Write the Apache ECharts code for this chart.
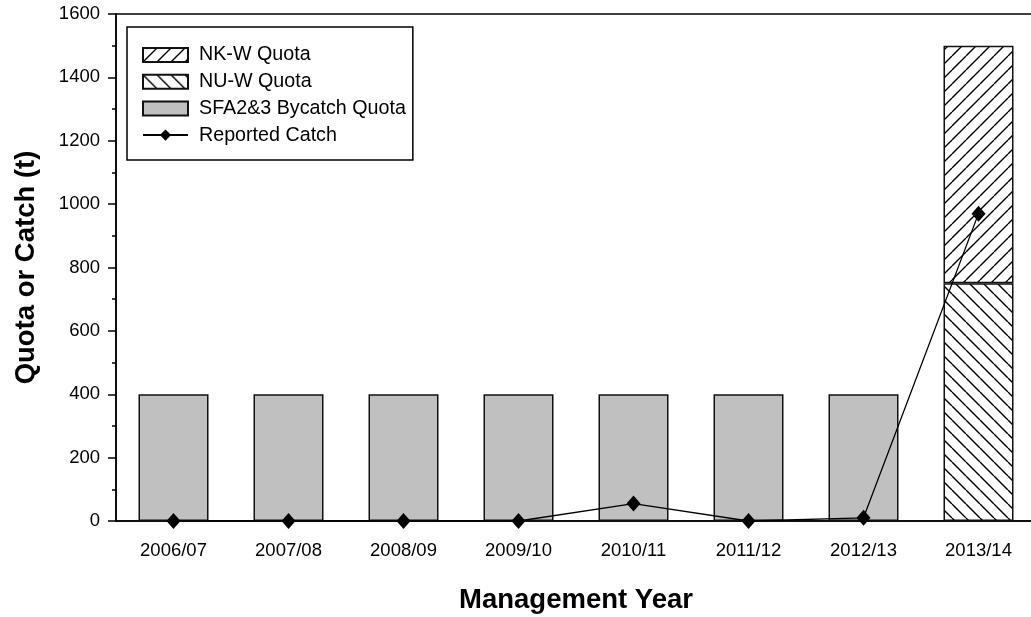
<!DOCTYPE html>
<html>
<head>
<meta charset="utf-8">
<script src="https://cdn.jsdelivr.net/npm/echarts@6/dist/echarts.min.js"></script>
<style>html,body{margin:0;padding:0;background:#fff;}#c{width:1031px;height:617px;}</style>
</head>
<body>
<div id="c"></div>
<script>
const categories = ['2006/07','2007/08','2008/09','2009/10','2010/11','2011/12','2012/13','2013/14'];
const sfaQuota = [400,400,400,400,400,400,400,'-'];
const nuwQuota = ['-','-','-','-','-','-','-',750];
const nkwQuota = ['-','-','-','-','-','-','-',750];
const reportedCatch = [0,0,0,0,55,0,10,970];
const yTicks = {min:0, max:1600, interval:200};

function hatch(forward){
  const s = 14;
  const c = document.createElement('canvas');
  c.width = s; c.height = s;
  const g = c.getContext('2d');
  g.fillStyle = '#fff'; g.fillRect(0,0,s,s);
  g.strokeStyle = '#000'; g.lineWidth = 1.4;
  g.beginPath();
  if (forward){
    for (const o of [-s,0,s]){ g.moveTo(o, s); g.lineTo(o+s, 0); }
  } else {
    for (const o of [-s,0,s]){ g.moveTo(o, 0); g.lineTo(o+s, s); }
  }
  g.stroke();
  return {image:c, repeat:'repeat'};
}

const FONT = 'Liberation Sans, Arial, sans-serif';
const chart = echarts.init(document.getElementById('c'));
chart.setOption({
  animation:false,
  backgroundColor:'#fff',
  textStyle:{fontFamily:FONT, color:'#000'},
  grid:{left:116, top:14, width:920, bottom:96, containLabel:false, outerBoundsMode:'none',
        show:true, borderColor:'#000', borderWidth:1.5, backgroundColor:'transparent'},
  legend:{
    orient:'vertical', left:127, top:27,
    padding:[17,7,14,15],
    borderColor:'#000', borderWidth:1.5,
    itemWidth:45, itemHeight:14, itemGap:4.7,
    textStyle:{fontFamily:FONT, fontSize:19.7, lineHeight:22, color:'#000', padding:[0,0,0,6]},
    data:[
      {name:'NK-W Quota', icon:'rect'},
      {name:'NU-W Quota', icon:'rect'},
      {name:'SFA2&3 Bycatch Quota', icon:'rect'},
      {name:'Reported Catch'}
    ]
  },
  xAxis:{
    type:'category', data:categories,
    axisLine:{lineStyle:{color:'#000', width:1.5}},
    axisTick:{show:false},
    axisLabel:{fontFamily:FONT, fontSize:18.5, color:'#000', margin:20},
    name:'Management Year', nameLocation:'middle', nameGap:65,
    nameTextStyle:{fontFamily:FONT, fontSize:27.5, fontWeight:'bold', color:'#000'}
  },
  yAxis:{
    type:'value', min:yTicks.min, max:yTicks.max, interval:yTicks.interval,
    axisLine:{show:true, lineStyle:{color:'#000', width:1.5}},
    axisTick:{show:true, length:8, lineStyle:{color:'#000', width:1.5}},
    minorTick:{show:true, splitNumber:2, length:4, lineStyle:{color:'#000', width:1.5}},
    splitLine:{show:false},
    axisLabel:{fontFamily:FONT, fontSize:18.5, color:'#000', margin:16, formatter:function(v){return String(v);}},
    name:'Quota or Catch (t)', nameLocation:'middle', nameGap:76,
    nameTextStyle:{fontFamily:FONT, fontSize:27.5, fontWeight:'bold', color:'#000'}
  },
  series:[
    {name:'SFA2&3 Bycatch Quota', type:'bar', stack:'q', data:sfaQuota, barWidth:70,
     itemStyle:{color:'#c0c0c0', borderColor:'#111', borderWidth:1.5}},
    {name:'NU-W Quota', type:'bar', stack:'q', data:nuwQuota, barWidth:70,
     itemStyle:{color:hatch(false), borderColor:'#111', borderWidth:1.5}},
    {name:'NK-W Quota', type:'bar', stack:'q', data:nkwQuota, barWidth:70,
     itemStyle:{color:hatch(true), borderColor:'#111', borderWidth:1.5}},
    {name:'Reported Catch', type:'line', data:reportedCatch, z:5,
     symbol:'diamond', symbolSize:[14,16],
     lineStyle:{color:'#000', width:1.3}, itemStyle:{color:'#000'}}
  ]
});
</script>
</body>
</html>
